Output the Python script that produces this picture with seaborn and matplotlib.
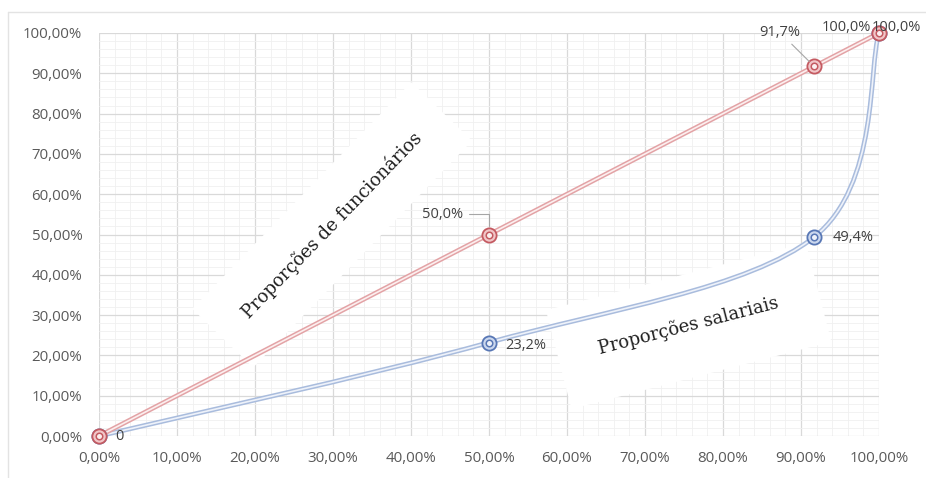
import matplotlib
matplotlib.use("Agg")
import matplotlib.pyplot as plt
from matplotlib.path import Path
from matplotlib.patches import PathPatch
from matplotlib.lines import Line2D
from matplotlib.ticker import MultipleLocator, FuncFormatter
import pandas as pd
import seaborn as sns

# Lorenz-style comparison: cumulative share of staff vs. share of payroll
staff_cum = [0.0, 50.0, 91.7, 100.0]
staff_share = [0.0, 50.0, 91.7, 100.0]
salary_share = [0.0, 23.2, 49.4, 100.0]
tick_values = [0, 10, 20, 30, 40, 50, 60, 70, 80, 90, 100]

df = pd.DataFrame({"x": staff_cum, "staff": staff_share, "salary": salary_share})

sns.set_theme(style="white")
plt.rcParams["font.family"] = ["Open Sans", "DejaVu Sans"]

RED_LINE, RED_CORE, RED_EDGE, RED_FILL = "#E3A3A6", "#FCEFEF", "#C45A61", "#F1C6C8"
BLUE_LINE, BLUE_CORE, BLUE_EDGE, BLUE_FILL = "#A9BCDD", "#EEF2FA", "#5877B5", "#CAD7EE"
LABEL_COLOR = "#404040"
TICK_COLOR = "#595959"

fig = plt.figure(figsize=(9.26, 4.78), dpi=100)
ax = fig.add_axes([99 / 926, 1 - 436 / 478, 780 / 926, 403 / 478])

# grid: major every 10 %, minor every 2 %
ax.set_xlim(0, 100)
ax.set_ylim(0, 100)
ax.set_xticks(tick_values)
ax.set_yticks(tick_values)
ax.xaxis.set_minor_locator(MultipleLocator(2))
ax.yaxis.set_minor_locator(MultipleLocator(2))
ax.grid(which="major", color="#D9D9D9", lw=0.9)
ax.grid(which="minor", color="#F0F0F0", lw=0.6)
ax.set_axisbelow(True)
for s in ax.spines.values():
    s.set_visible(False)

pct = FuncFormatter(lambda v, _: f"{v:.2f}%".replace(".", ","))
ax.xaxis.set_major_formatter(pct)
ax.yaxis.set_major_formatter(pct)
ax.tick_params(which="both", length=0, labelsize=10.8, colors=TICK_COLOR)
ax.tick_params(axis="y", pad=12)
ax.tick_params(axis="x", pad=11)


def smooth_path(xs, ys):
    """Cardinal-spline Bezier path through the points (spreadsheet-style smoothing)."""
    pts = list(zip(xs, ys))
    n = len(pts)
    verts = [pts[0]]
    codes = [Path.MOVETO]
    for i in range(n - 1):
        p0 = pts[max(i - 1, 0)]
        p1 = pts[i]
        p2 = pts[i + 1]
        p3 = pts[min(i + 2, n - 1)]
        c1 = (p1[0] + (p2[0] - p0[0]) / 6, p1[1] + (p2[1] - p0[1]) / 6)
        c2 = (p2[0] - (p3[0] - p1[0]) / 6, p2[1] - (p3[1] - p1[1]) / 6)
        verts += [c1, c2, p2]
        codes += [Path.CURVE4] * 3
    return Path(verts, codes)


# salary curve (smoothed, double stroke)
curve = smooth_path(df["x"], df["salary"])
ax.add_patch(PathPatch(curve, fill=False, ec=BLUE_LINE, lw=3.4, clip_on=False, zorder=3))
ax.add_patch(PathPatch(curve, fill=False, ec=BLUE_CORE, lw=1.2, clip_on=False, zorder=3))

# staff line (double stroke)
sns.lineplot(data=df, x="x", y="staff", ax=ax, color=RED_LINE, lw=3.4, zorder=4, clip_on=False)
sns.lineplot(data=df, x="x", y="staff", ax=ax, color=RED_CORE, lw=1.2, zorder=4, clip_on=False)


def bullseye(y, edge, fill, core, z):
    sns.scatterplot(data=df, x="x", y=y, ax=ax, s=105, color=fill, edgecolor=edge,
                    linewidth=1.3, zorder=z, clip_on=False, legend=False)
    sns.scatterplot(data=df, x="x", y=y, ax=ax, s=22, color=core,
                    edgecolor=edge, linewidth=1.1, zorder=z + 0.1, clip_on=False, legend=False)


bullseye("salary", BLUE_EDGE, BLUE_FILL, "#EEF2FA", 5)
bullseye("staff", RED_EDGE, RED_FILL, "#FBEFEF", 6)
ax.set_xlabel("")
ax.set_ylabel("")


def fmt(v):
    return "0" if v == 0 else f"{v:.1f}%".replace(".", ",")


lab = dict(fontsize=10.5, color=LABEL_COLOR, zorder=7, annotation_clip=False)

# salary labels, to the right of each point
sal_offsets = [(12, 0), (12, -2), (13.5, -0.5), (-5.5, 4)]
for xv, yv, off in zip(staff_cum, salary_share, sal_offsets):
    ax.annotate(fmt(yv), xy=(xv, yv), xytext=off, textcoords="offset points",
                ha="left", va="center", **lab)

# staff labels, above-left with leader lines
ax.annotate(fmt(staff_share[1]), xy=(staff_cum[1], staff_share[1]), xytext=(-18.5, 14.5),
            textcoords="offset points", ha="right", va="center",
            arrowprops=dict(arrowstyle="-", color="#A6A6A6", lw=0.8,
                            connectionstyle="angle,angleA=0,angleB=90,rad=0",
                            shrinkA=2, shrinkB=6), **lab)
ax.annotate(fmt(staff_share[2]), xy=(staff_cum[2], staff_share[2]), xytext=(-10, 24.5),
            textcoords="offset points", ha="right", va="center",
            arrowprops=dict(arrowstyle="-", color="#A6A6A6", lw=0.8, shrinkA=1, shrinkB=5), **lab)
ax.annotate(fmt(staff_share[3]), xy=(staff_cum[3], staff_share[3]), xytext=(-6, 4),
            textcoords="offset points", ha="right", va="center", **lab)

# series captions on white text boxes
cap = dict(fontsize=13, color="#1F1F1F", family=["DejaVu Serif"], ha="center", va="center",
           rotation_mode="anchor", zorder=2)
ax.text(29.9, 52.4, "Proporções de funcionários", rotation=46,
        bbox=dict(boxstyle="square,pad=1.8", fc="white", ec="none"), **cap)
ax.text(75.6, 27.3, "Proporções salariais", rotation=14.5,
        bbox=dict(boxstyle="square,pad=2.3", fc="white", ec="none"), **cap)

# faint chart frame
fig.add_artist(Line2D([8 / 926, 8 / 926], [0, 1 - 12 / 478], color="#E3E3E3", lw=1))
fig.add_artist(Line2D([8 / 926, 1], [1 - 12 / 478, 1 - 12 / 478], color="#E3E3E3", lw=1))

fig.savefig("out.png", dpi=100)
